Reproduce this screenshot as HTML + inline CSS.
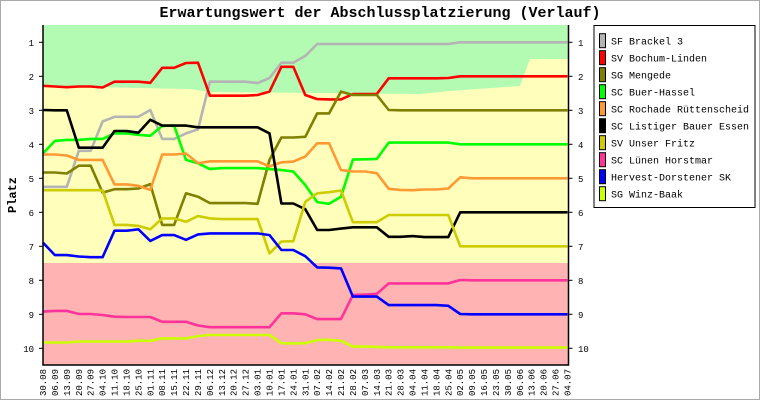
<!DOCTYPE html>
<html><head><meta charset="utf-8"><style>
body{margin:0;background:#fff}
svg{display:block}
text{font-family:"Liberation Mono",monospace}
</style></head><body>
<svg id="c" width="760" height="400" viewBox="0 0 760 400" xmlns="http://www.w3.org/2000/svg">
<rect x="0.5" y="0.5" width="759" height="399" fill="#fff" stroke="#aaa"/>
<text x="380" y="17" text-anchor="middle" font-size="15" font-weight="bold">Erwartungswert der Abschlussplatzierung (Verlauf)</text>
<text transform="translate(16,195) rotate(-90)" text-anchor="middle" font-size="12" font-weight="bold">Platz</text>
<g id="bg"></g><g id="lines"></g><g id="axes"></g><g id="legend"></g>
</svg>
<script>
const dates=["30.08","06.09","13.09","20.09","27.09","04.10","11.10","18.10","25.10","01.11","08.11","15.11","22.11","29.11","06.12","13.12","20.12","27.12","03.01","10.01","17.01","24.01","31.01","07.02","14.02","21.02","28.02","07.03","14.03","21.03","28.03","04.04","11.04","18.04","25.04","02.05","09.05","16.05","23.05","30.05","06.06","13.06","20.06","27.06","04.07"];
const yTicks=[1,2,3,4,5,6,7,8,9,10];
const teams=["SF Brackel 3","SV Bochum-Linden","SG Mengede","SC Buer-Hassel","SC Rochade Rüttenscheid","SC Listiger Bauer Essen","SV Unser Fritz","SC Lünen Horstmar","Hervest-Dorstener SK","SG Winz-Baak"];
const colors=["#b4b4b4","#ff0000","#808000","#00ff00","#ff9933","#000000","#cccc00","#ff3399","#0000ff","#ccff00"];
const sBrackel=[5.25,5.25,5.25,4.19,4.19,3.33,3.19,3.19,3.19,2.99,3.84,3.84,3.68,3.56,2.16,2.16,2.16,2.16,2.2,2.05,1.6,1.6,1.4,1.05,1.05,1.05,1.05,1.05,1.05,1.05,1.05,1.05,1.05,1.05,1.05,1,1,1,1,1,1,1,1,1,1];
const sBochum=[2.28,2.3,2.32,2.3,2.3,2.33,2.16,2.16,2.16,2.19,1.75,1.75,1.61,1.6,2.57,2.57,2.57,2.57,2.55,2.45,1.72,1.72,2.55,2.67,2.68,2.68,2.52,2.52,2.52,2.06,2.06,2.06,2.06,2.06,2.05,2,2,2,2,2,2,2,2,2,2];
const sMengede=[4.83,4.83,4.86,4.63,4.63,5.42,5.32,5.32,5.3,5.17,6.37,6.37,5.44,5.54,5.73,5.73,5.73,5.73,5.75,4.46,3.8,3.8,3.78,3.09,3.09,2.45,2.55,2.55,2.55,2.99,3,3,3,3,3,3,3,3,3,3,3,3,3,3,3];
const sBuer=[4.27,3.9,3.87,3.87,3.84,3.84,3.68,3.68,3.72,3.75,3.46,3.45,4.46,4.56,4.73,4.7,4.7,4.7,4.7,4.73,4.76,4.8,5.2,5.7,5.75,5.54,4.45,4.44,4.43,3.95,3.95,3.95,3.95,3.95,3.95,4,4,4,4,4,4,4,4,4,4];
const sRochade=[4.3,4.3,4.33,4.46,4.46,4.46,5.18,5.18,5.22,5.34,4.3,4.3,4.27,4.56,4.5,4.5,4.5,4.5,4.5,4.65,4.53,4.51,4.36,3.97,3.97,4.76,4.8,4.8,4.85,5.31,5.34,5.35,5.33,5.33,5.3,4.97,5,5,5,5,5,5,5,5,5];
const sListiger=[2.99,3,3,4.1,4.1,4.1,3.61,3.61,3.66,3.28,3.45,3.45,3.45,3.5,3.5,3.5,3.5,3.5,3.5,3.68,5.74,5.74,5.91,6.52,6.52,6.48,6.44,6.44,6.44,6.72,6.72,6.7,6.73,6.73,6.73,6,6,6,6,6,6,6,6,6,6];
const sFritz=[5.35,5.35,5.35,5.35,5.35,5.35,6.37,6.37,6.4,6.5,6.18,6.18,6.28,6.11,6.18,6.2,6.2,6.2,6.2,7.21,6.86,6.85,5.69,5.44,5.41,5.36,6.29,6.29,6.29,6.08,6.08,6.08,6.08,6.08,6.08,7,7,7,7,7,7,7,7,7,7];
const sLuenen=[8.92,8.9,8.9,8.99,8.99,9.02,9.07,9.08,9.08,9.08,9.22,9.22,9.22,9.33,9.38,9.38,9.38,9.38,9.38,9.38,8.97,8.97,9,9.14,9.14,9.14,8.43,8.42,8.4,8.09,8.09,8.09,8.09,8.09,8.09,7.99,8,8,8,8,8,8,8,8,8];
const sHervest=[6.89,7.26,7.26,7.3,7.32,7.32,6.54,6.54,6.5,6.84,6.67,6.67,6.81,6.65,6.62,6.62,6.62,6.62,6.62,6.67,7.11,7.11,7.29,7.62,7.63,7.65,8.48,8.48,8.48,8.73,8.73,8.73,8.73,8.73,8.75,8.99,9,9,9,9,9,9,9,9,9];
const sWinz=[9.83,9.83,9.83,9.8,9.8,9.8,9.8,9.8,9.78,9.78,9.71,9.71,9.71,9.64,9.61,9.61,9.61,9.61,9.61,9.61,9.85,9.86,9.85,9.76,9.75,9.78,9.95,9.95,9.96,9.97,9.97,9.97,9.97,9.97,9.97,9.98,9.98,9.98,9.98,9.98,9.98,9.98,9.98,9.98,9.98];
const series=[sBrackel,sBochum,sMengede,sBuer,sRochade,sListiger,sFritz,sLuenen,sHervest,sWinz];

const NS="http://www.w3.org/2000/svg";
const L=43,R=567.5,T=25,B=365;
const xs=i=>L+i*(R-L)/(dates.length-1);
const ys=v=>42.3+(v-1)*34;
function mk(tag,at,parent){const e=document.createElementNS(NS,tag);for(const k in at)e.setAttribute(k,at[k]);parent.appendChild(e);return e;}
const bg=document.getElementById('bg'),lg=document.getElementById('lines'),ax=document.getElementById('axes'),leg=document.getElementById('legend');

let r=mk('rect',{x:L,y:T,width:R-L+1,height:B-T,fill:'#ffffbb'},bg);


let g=mk('polygon',{points:`${L},${T} ${R+1},${T} ${R+1},59 530,59 520,86 450,91 420,94 210,92 190,89 ${L},86`,fill:'#b3fbb3'},bg);


let rd=mk('rect',{x:L,y:263,width:R-L+1,height:B-263,fill:'#ffb3b3'},bg);



series.forEach((s,k)=>{
  const p=mk('polyline',{points:s.map((v,i)=>xs(i).toFixed(1)+','+ys(v).toFixed(1)).join(' '),fill:'none',stroke:colors[k],'stroke-width':2.6,'stroke-linejoin':'round'},lg);
  
  
});

let fr=mk('path',{d:`M${L},${T}V${B}H${R+1}V${T}`,fill:'none',stroke:'#000','stroke-width':1.5},ax);


yTicks.forEach(v=>{
  const y=ys(v);
  mk('line',{x1:L-4,x2:L,y1:y,y2:y,stroke:'#000'},ax);
  mk('line',{x1:R+1,x2:R+5,y1:y,y2:y,stroke:'#000'},ax);
  const t1=mk('text',{x:34,y:y+3.5,'text-anchor':'end','font-size':9},ax);t1.textContent=v;
  
  
  const t2=mk('text',{x:578,y:y+3.5,'font-size':9},ax);t2.textContent=v;
  
  
});
dates.forEach((d,i)=>{
  const x=xs(i);
  const t=mk('text',{transform:`translate(${x+3},369) rotate(-90)`,'text-anchor':'end','font-size':9},ax);t.textContent=d;
  
  
});

let lb=mk('rect',{x:594,y:25.5,width:161,height:182,fill:'#fff',stroke:'#000'},leg);


teams.forEach((n,k)=>{
  const cy=40.7+k*17;
  const sw=mk('rect',{x:599.5,y:cy-7,width:6,height:14,fill:colors[k],stroke:'#000'},leg);
  
  
  const t=mk('text',{x:611,y:cy+4,'font-size':10},leg);t.textContent=n;
  
  
});
</script>
</body></html>
